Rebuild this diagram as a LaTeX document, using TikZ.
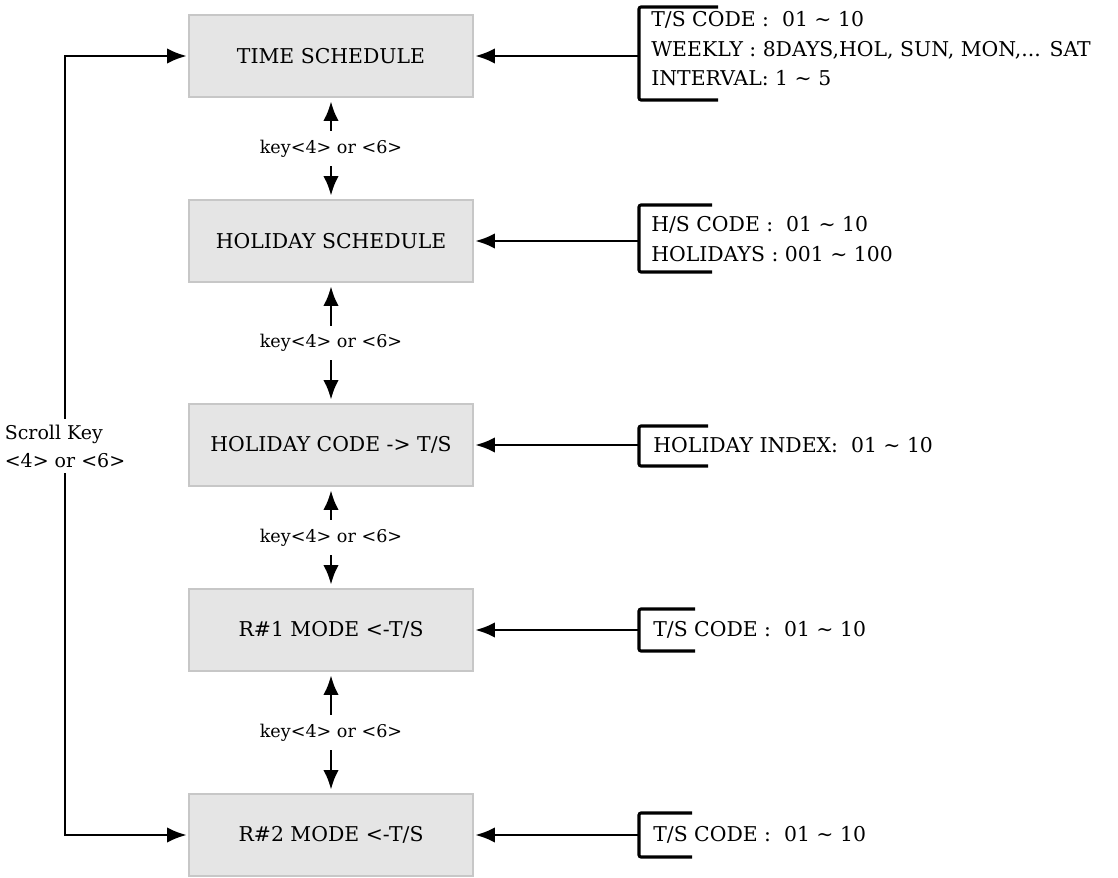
\documentclass[tikz,border=0pt]{standalone}
\usepackage{fontspec}
\setmainfont{DejaVu Serif}
\usetikzlibrary{arrows.meta}
\tikzset{
    menu/.style={draw=black!22, line width=2pt, fill=black!10, minimum width=7.1cm, minimum height=2.05cm, align=center, font=\fontsize{14.5}{17}\selectfont},
    arrow/.style={line width=2.1pt, -{Latex[length=14pt, width=11pt]}, shorten >=0.5pt},
    twoway/.style={line width=2.1pt, {Latex[length=14pt, width=11pt]}-{Latex[length=14pt, width=11pt]}, shorten <=2pt, shorten >=2pt},
    keylabel/.style={fill=white, inner xsep=2pt, inner ysep=6pt, font=\fontsize{12.5}{14}\selectfont},
    scrolllabel/.style={align=left, inner sep=4pt, font=\fontsize{13.5}{20}\selectfont},
    info/.style={anchor=west, align=left, inner sep=0pt, font=\fontsize{14.5}{21}\selectfont},
    bracket/.style={line width=2.2pt, rounded corners=1.5pt}
}

\begin{document}
\begin{tikzpicture}[x=0.025cm, y=-0.025cm]
\useasboundingbox (0,0) rectangle (1118,878);

\node[menu] (ts) at (331,56) {TIME SCHEDULE};
\node[menu] (hs) at (331,241) {HOLIDAY SCHEDULE};
\node[menu] (hc) at (331,445) {HOLIDAY CODE -> T/S};
\node[menu] (r1) at (331,630) {R\#1 MODE <-T/S};
\node[menu] (r2) at (331,835) {R\#2 MODE <-T/S};

\foreach \a/\b in {ts/hs, hs/hc, hc/r1, r1/r2}
    \draw[twoway] (\a) -- node[keylabel] {key<4> or <6>} (\b);

% scroll loop on the left
\node[scrolllabel] (scroll) at (65,446) {Scroll Key\\<4> or <6>};
\draw[arrow] (scroll) |- (ts);
\draw[arrow] (scroll) |- (r2);

% parameter lists on the right
\draw[bracket] (718,7) -- (639,7) -- (639,100) -- (718,100);
\node[info] (tsinfo) at (651,49) {T/S CODE :\ \ 01 \textasciitilde\ 10\\WEEKLY : 8DAYS,HOL, SUN, MON,... SAT\\INTERVAL: 1 \textasciitilde\ 5};
\coordinate (tsin) at (639,56);
\draw[arrow] (tsin) -- (ts);

\draw[bracket] (712,205) -- (639,205) -- (639,272) -- (712,272);
\node[info] (hsinfo) at (651,239) {H/S CODE :\ \ 01 \textasciitilde\ 10\\HOLIDAYS : 001 \textasciitilde\ 100};
\coordinate (hsin) at (639,241);
\draw[arrow] (hsin) -- (hs);

\draw[bracket] (708,426) -- (639,426) -- (639,466) -- (708,466);
\node[info] (hcinfo) at (653,445) {HOLIDAY INDEX:\ \ 01 \textasciitilde\ 10};
\coordinate (hcin) at (639,445);
\draw[arrow] (hcin) -- (hc);

\draw[bracket] (695,609) -- (639,609) -- (639,651) -- (695,651);
\node[info] (r1info) at (653,630) {T/S CODE :\ \ 01 \textasciitilde\ 10};
\coordinate (r1in) at (639,630);
\draw[arrow] (r1in) -- (r1);

\draw[bracket] (692,813) -- (639,813) -- (639,857) -- (692,857);
\node[info] (r2info) at (653,835) {T/S CODE :\ \ 01 \textasciitilde\ 10};
\coordinate (r2in) at (639,835);
\draw[arrow] (r2in) -- (r2);
\end{tikzpicture}
\end{document}
